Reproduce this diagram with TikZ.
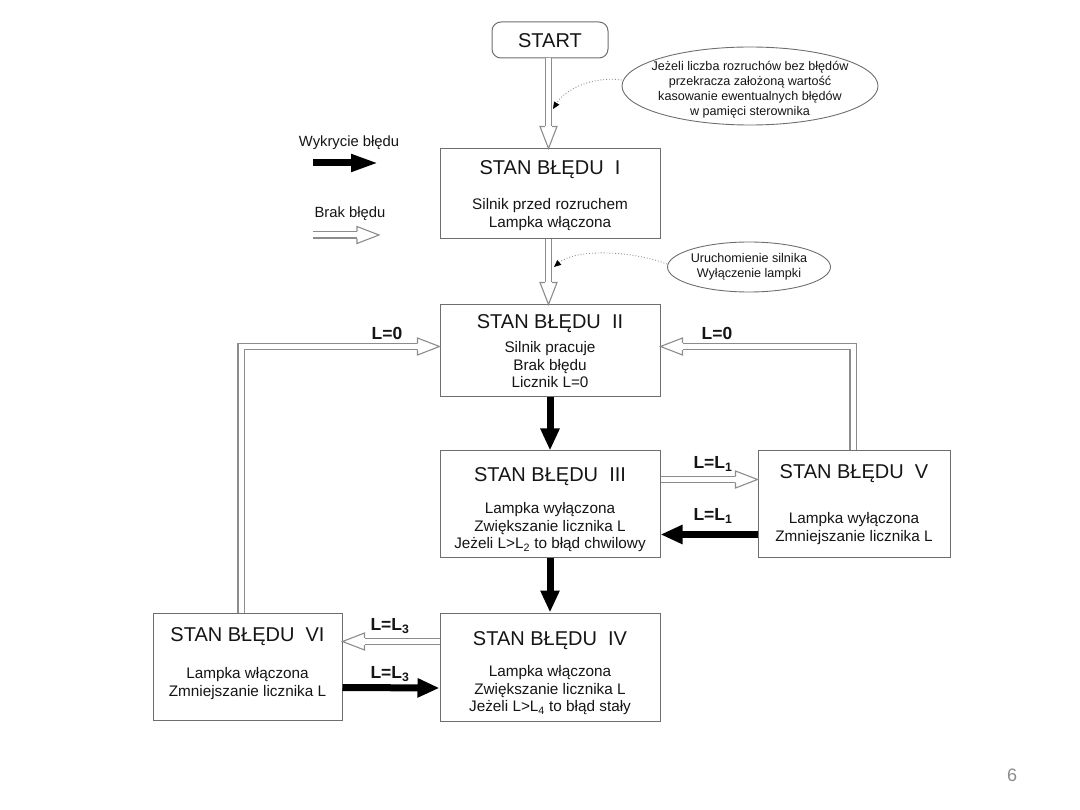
\documentclass[tikz,border=0pt]{standalone}
\usepackage{fontspec}
\setmainfont{Liberation Sans}
\usetikzlibrary{arrows.meta,calc,shapes.geometric}
\definecolor{boxline}{HTML}{6E6E6E}
\definecolor{hol}{HTML}{8C8C8C}
\definecolor{txt}{HTML}{151515}
\tikzset{
  box/.style={draw=boxline, line width=1pt, fill=white, inner sep=0pt},
  title/.style={font=\fontsize{20}{22}\selectfont, text=txt, inner sep=0pt, anchor=base},
  body/.style={font=\fontsize{15.3}{17.5}\selectfont, text=txt, align=center, inner sep=0pt, anchor=north},
  noteshape/.style={draw=boxline, line width=0.9pt, ellipse, inner sep=0pt},
  notetext/.style={align=center, inner sep=0pt, font=\fontsize{12.6}{15}\selectfont, text=txt},
  lab/.style={font=\bfseries\fontsize{17.5}{19}\selectfont, text=txt, inner sep=0pt},
  legtext/.style={font=\fontsize{14.8}{16}\selectfont, text=txt, inner sep=0pt},
  blk/.style={draw=black, line width=7pt, -{Triangle[length=22pt,width=18pt]}},
  hshaft/.style={draw=hol, line width=1.1pt, double=white, double distance=5pt},
  hline/.style={draw=hol, line width=1.1pt, line join=miter},
  dotc/.style={draw=black!45, line width=0.9pt, dotted, -{Triangle[length=7pt,width=6pt,black]}},
}
\newcommand{\hollowarrow}[3]{%
  \path ($(#3)!22pt!(#2)$) coordinate (hb)
        ($(hb)!8.5pt!90:(#3)$) coordinate (hwa)
        ($(hb)!8.5pt!-90:(#3)$) coordinate (hwb)
        ($(hb)!3.6pt!90:(#3)$) coordinate (hsa)
        ($(hb)!3.6pt!-90:(#3)$) coordinate (hsb);
  \draw[hshaft] #1 -- (hb);
  \fill[white] (hwa) -- (#3) -- (hwb) -- cycle;
  \draw[hline] (hsa) -- (hwa) -- (#3) -- (hwb) -- (hsb);
}
\begin{document}
\begin{tikzpicture}[x=1pt,y=-1pt]
\useasboundingbox (0,0) rectangle (1080,810);

% START
\node[box, rounded corners=9pt, minimum width=116pt, minimum height=36pt] (st) at (550,40) {};
\node[title] at ([yshift=-26]st.north) {START};

% notes
\node[noteshape, minimum width=256pt, minimum height=78pt] (n1) at (750,86) {};
\node[notetext] at ([yshift=-4]n1.center) {Jeżeli liczba rozruchów bez błędów\\przekracza założoną wartość\\kasowanie ewentualnych błędów\\w pamięci sterownika};
\node[noteshape, minimum width=163pt, minimum height=50pt] (n2) at (749,267) {};
\node[notetext] at (n2.center) {Uruchomienie silnika\\Wyłączenie lampki};

% boxes
\node[box, minimum width=220pt, minimum height=90pt] (b1) at (550,194) {};
\node[title] at ([yshift=-26]b1.north) {STAN BŁĘDU\ \ I};
\node[body] at ([yshift=-50]b1.north) {Silnik przed rozruchem\\Lampka włączona};

\node[box, minimum width=220pt, minimum height=92pt] (b2) at (550,351) {};
\node[title] at ([yshift=-24]b2.north) {STAN BŁĘDU\ \ II};
\node[body] at ([yshift=-37]b2.north) {Silnik pracuje\\Brak błędu\\Licznik L=0};

\node[box, minimum width=220pt, minimum height=106pt] (b3) at (550,504) {};
\node[title] at ([yshift=-31]b3.north) {STAN BŁĘDU\ \ III};
\node[body] at ([yshift=-52]b3.north) {Lampka wyłączona\\Zwiększanie licznika L\\Jeżeli L>L\textsubscript{2} to błąd chwilowy};

\node[box, minimum width=192pt, minimum height=106pt] (b5) at (854,504) {};
\node[title] at ([yshift=-28]b5.north) {STAN BŁĘDU\ \ V};
\node[body] at ([yshift=-62]b5.north) {Lampka wyłączona\\Zmniejszanie licznika L};

\node[box, minimum width=220pt, minimum height=108pt] (b4) at (550,667) {};
\node[title] at ([yshift=-33]b4.north) {STAN BŁĘDU\ \ IV};
\node[body] at ([yshift=-53]b4.north) {Lampka włączona\\Zwiększanie licznika L\\Jeżeli L>L\textsubscript{4} to błąd stały};

\node[box, minimum width=189pt, minimum height=107pt] (b6) at (247.5,666.5) {};
\node[title] at ([yshift=-29]b6.north) {STAN BŁĘDU\ \ VI};
\node[body] at ([yshift=-55]b6.north) {Lampka włączona\\Zmniejszanie licznika L};

% legend
\node[legtext] (lg1) at (349,143) {Wykrycie błędu};
\node[legtext] (lg2) at (350,214) {Brak błędu};
\coordinate (la) at (313,163); \coordinate (lb) at (379,163);
\draw[blk, -{Triangle[length=28pt,width=16pt]}] (la) -- (lb);
\coordinate (lc) at (313,235); \coordinate (ld) at (379,235);
\hollowarrow{(lc)}{lc}{ld}

% START -> I
\coordinate (s0) at ([xshift=-1.5]st.south);
\coordinate (s1) at (s0 |- b1.north);
\hollowarrow{(s0)}{s0}{s1}
% I -> II
\coordinate (s2) at ([xshift=-1.5]b1.south);
\coordinate (s3) at (s2 |- b2.north);
\hollowarrow{(s2)}{s2}{s3}

% dotted notes
\coordinate (d1) at (553,109);
\draw[dotc] ([yshift=6]n1.west) .. controls (595,76) and (566,88) .. (d1);
\coordinate (d2) at (554,267);
\draw[dotc] ([yshift=3]n2.west) .. controls (630,250) and (575,249) .. (d2);

% black down arrows
\draw[blk] (b2.south) -- (b3.north);
\draw[blk] (b3.south) -- (b4.north);

% III <-> V
\coordinate (t1) at ([yshift=-29]b3.north east);
\coordinate (t2) at (t1 -| b5.west);
\hollowarrow{(t1)}{t1}{t2}
\draw[blk] ([yshift=23]b5.south west) -- ([yshift=23]b3.south east);
\node[lab] at (713,464) {L=L\textsubscript{1}};
\node[lab] at (713,516) {L=L\textsubscript{1}};

% IV <-> VI
\coordinate (u1) at ([yshift=-29]b4.north west);
\coordinate (u2) at (u1 -| b6.east);
\hollowarrow{(u1)}{u1}{u2}
\draw[blk] ([yshift=-21]b6.east) -- ([yshift=-21]b4.west);
\node[lab] at (390,626) {L=L\textsubscript{3}};
\node[lab] at (390,674) {L=L\textsubscript{3}};

% VI -> II
\coordinate (v0) at ([xshift=-6.5]b6.north);
\coordinate (v2) at ([yshift=-42]b2.north west);
\coordinate (v1) at (v0 |- v2);
\hollowarrow{(v0) -- (v1)}{v1}{v2}
\node[lab] at (387,333) {L=0};

% V -> II
\coordinate (w0) at ([xshift=-1]b5.north);
\coordinate (w2) at ([yshift=-42]b2.north east);
\coordinate (w1) at (w0 |- w2);
\hollowarrow{(w0) -- (w1)}{w1}{w2}
\node[lab] at (717,333) {L=0};

% page number
\node[font=\fontsize{18}{20}\selectfont, text=black!45] (pg) at (1012,775) {6};
\end{tikzpicture}
\end{document}
